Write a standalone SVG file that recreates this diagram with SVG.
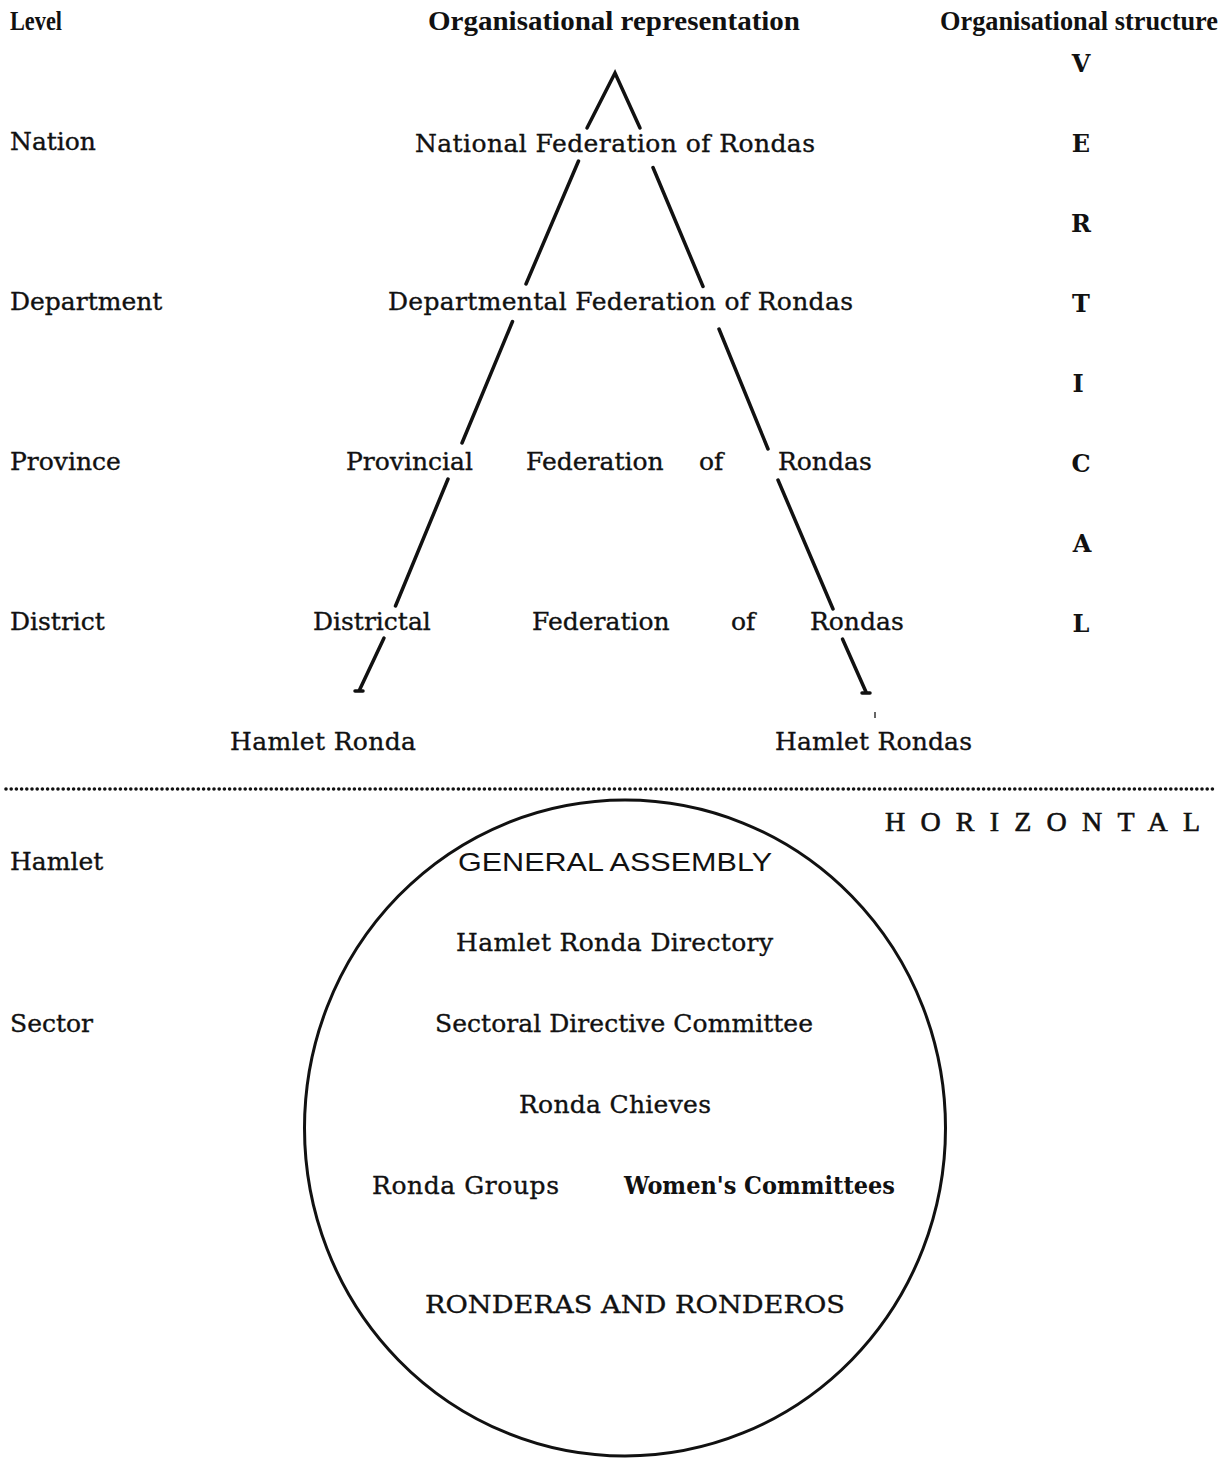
<svg xmlns="http://www.w3.org/2000/svg" width="1231" height="1458" viewBox="0 0 1231 1458">
<style>
text{fill:#111;}
.s{font-family:"DejaVu Serif","Liberation Serif",serif;font-size:25px;stroke:#111;stroke-width:0.35;}
.b{font-family:"Liberation Serif","DejaVu Serif",serif;font-size:27px;font-weight:bold;}
.v{font-family:"DejaVu Serif","Liberation Serif",serif;font-size:24px;font-weight:bold;text-anchor:middle;}
.h{font-family:"Liberation Serif",serif;font-size:28px;stroke:#111;stroke-width:0.6;}
.g{font-family:"Liberation Sans",sans-serif;font-size:26px;}
.wb{font-family:"DejaVu Serif",serif;font-size:24px;font-weight:bold;}
.ln{stroke:#111;stroke-width:3.5;stroke-linecap:round;fill:none;}
</style>
<rect width="1231" height="1458" fill="#fff"/>

<g id="headers">
<text class="b" x="10" y="30" textLength="52" lengthAdjust="spacingAndGlyphs">Level</text>
<text class="b" x="428" y="30" textLength="372" lengthAdjust="spacingAndGlyphs">Organisational representation</text>
<text class="b" x="940" y="30" textLength="278" lengthAdjust="spacingAndGlyphs">Organisational structure</text>
</g>

<g id="levels">
<text class="s" x="10" y="150">Nation</text>
<text class="s" x="10" y="310">Department</text>
<text class="s" x="10" y="470">Province</text>
<text class="s" x="10" y="630">District</text>
<text class="s" x="10" y="870">Hamlet</text>
<text class="s" x="10" y="1032">Sector</text>
</g>

<g id="vertical">
<text class="v" x="1081" y="72">V</text>
<text class="v" x="1081" y="152">E</text>
<text class="v" x="1081" y="232">R</text>
<text class="v" x="1081" y="312">T</text>
<text class="v" x="1078" y="392">I</text>
<text class="v" x="1081" y="472">C</text>
<text class="v" x="1082" y="552">A</text>
<text class="v" x="1081" y="632">L</text>
</g>

<g id="national">
<text class="s" x="415" y="152" textLength="400" lengthAdjust="spacing">National Federation of Rondas</text>
</g>
<g id="departmental">
<text class="s" x="388" y="310" textLength="465" lengthAdjust="spacing">Departmental Federation of Rondas</text>
</g>
<g id="provincial">
<text class="s" x="346" y="470">Provincial</text>
<text class="s" x="526" y="470">Federation</text>
<text class="s" x="699" y="470">of</text>
<text class="s" x="778" y="470">Rondas</text>
</g>
<g id="districtal">
<text class="s" x="313" y="630">Districtal</text>
<text class="s" x="532" y="630">Federation</text>
<text class="s" x="731" y="630">of</text>
<text class="s" x="810" y="630">Rondas</text>
</g>
<g id="hamlet-ronda">
<text class="s" x="230" y="750" textLength="186" lengthAdjust="spacing">Hamlet Ronda</text>
</g>
<g id="hamlet-rondas">
<text class="s" x="775" y="750" textLength="197" lengthAdjust="spacing">Hamlet Rondas</text>
</g>

<g id="connectors">
<path class="ln" d="M587,128 L615,73 L640,128"/>
<line class="ln" x1="578.5" y1="161" x2="526" y2="284"/>
<line class="ln" x1="512.5" y1="321.5" x2="462" y2="443"/>
<line class="ln" x1="448" y1="479" x2="395.5" y2="606"/>
<line class="ln" x1="384" y1="638" x2="359.5" y2="690"/>
<line class="ln" x1="355" y1="691" x2="363" y2="691"/>
<line class="ln" x1="653" y1="167.5" x2="703" y2="286.5"/>
<line class="ln" x1="719" y1="329" x2="768" y2="449"/>
<line class="ln" x1="778" y1="480" x2="833" y2="609"/>
<line class="ln" x1="842.5" y1="639" x2="866" y2="692"/>
<line class="ln" x1="862" y1="693" x2="870" y2="693"/>
<line x1="875" y1="712" x2="875" y2="718" stroke="#333" stroke-width="1.5"/>
</g>

<g id="divider">
<line x1="6" y1="789" x2="1216" y2="789" stroke="#111" stroke-width="3.6" stroke-dasharray="0 5.2" stroke-linecap="round"/>
</g>

<g id="horizontal">
<text class="h" x="885" y="831" textLength="315" lengthAdjust="spacing">HORIZONTAL</text>
</g>

<g id="hamlet-circle">
<ellipse cx="625" cy="1128" rx="320.5" ry="328" fill="none" stroke="#111" stroke-width="3"/>
<text class="g" x="458" y="871" textLength="314" lengthAdjust="spacingAndGlyphs">GENERAL ASSEMBLY</text>
<text class="s" x="456" y="951" textLength="317" lengthAdjust="spacing">Hamlet Ronda Directory</text>
<text class="s" x="435" y="1032" textLength="378" lengthAdjust="spacing">Sectoral Directive Committee</text>
<text class="s" x="519" y="1113" textLength="192" lengthAdjust="spacing">Ronda Chieves</text>
<text class="s" x="372" y="1194" textLength="187" lengthAdjust="spacing">Ronda Groups</text>
<text class="wb" x="624" y="1194" textLength="271" lengthAdjust="spacingAndGlyphs">Women's Committees</text>
<text class="s" x="425" y="1313" textLength="420" lengthAdjust="spacingAndGlyphs">RONDERAS AND RONDEROS</text>
</g>
</svg>
